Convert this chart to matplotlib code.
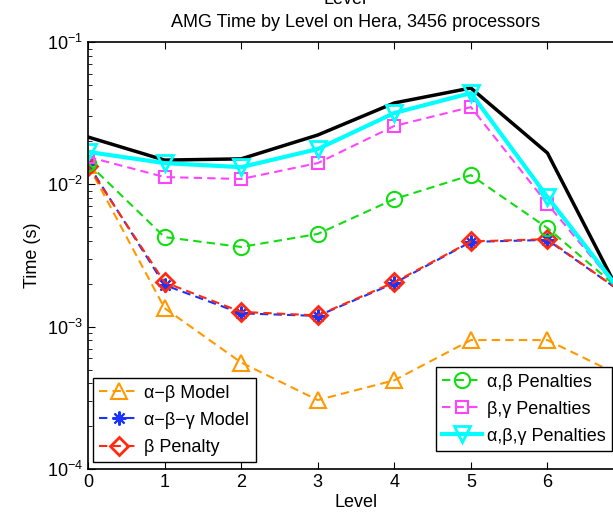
import matplotlib
matplotlib.use('Agg')
import matplotlib.pyplot as plt
import numpy as np

plt.rcParams['font.family'] = ['Liberation Sans', 'DejaVu Sans']

levels = [0, 1, 2, 3, 4, 5, 6, 7]

# measured total (black, no legend entry)
measured = [0.0215, 0.0148, 0.0151, 0.0222, 0.0373, 0.0475, 0.0166, 0.00150]
ab_model = [0.0137, 0.00135, 0.00056, 0.000305, 0.00042, 0.000805, 0.000805, 0.00044]
abg_model = [0.0139, 0.00196, 0.00124, 0.00119, 0.00202, 0.00394, 0.00407, 0.00170]
b_penalty = [0.0135, 0.00205, 0.00127, 0.00120, 0.00205, 0.00397, 0.00412, 0.00170]
ab_pen = [0.0141, 0.00426, 0.00363, 0.00448, 0.00788, 0.0116, 0.00493, 0.00172]
bg_pen = [0.0156, 0.01125, 0.0109, 0.0141, 0.0257, 0.0349, 0.00728, 0.00165]
abg_pen = [0.0169, 0.0141, 0.0132, 0.0177, 0.0317, 0.0438, 0.00815, 0.00165]

fig = plt.figure(figsize=(6.13, 5.24), dpi=100)
ax = fig.add_axes([88/613, 55/524, 536/613, 427/524])

dash = (4, 2.5)
ax.plot(levels, measured, '-', color='black', lw=2.5)
l1, = ax.plot(levels, ab_model, '--', color='#ff9900', lw=1.5, dashes=dash,
              marker='^', ms=11, mfc='none', mew=1.5, label='α−β Model')
l2, = ax.plot(levels, abg_model, '--', color='#1a33ff', lw=1.5, dashes=dash,
              marker=(8, 2, 0), ms=10, mew=1.5, label='α−β−γ Model')
l3, = ax.plot(levels, b_penalty, '--', color='#ff2a10', lw=1.5, dashes=dash,
              marker='D', ms=9.5, mfc='none', mew=2, label='β Penalty')
l4, = ax.plot(levels, ab_pen, '--', color='#11dd11', lw=1.5, dashes=dash,
              marker='o', ms=11, mfc='none', mew=1.5, label='α,β Penalties')
l5, = ax.plot(levels, bg_pen, '--', color='#ff44ff', lw=1.5, dashes=dash,
              marker='s', ms=9, mfc='none', mew=1.5, label='β,γ Penalties')
l6, = ax.plot(levels, abg_pen, '-', color='#00ffff', lw=3,
              marker='v', ms=12, mfc='none', mew=2, label='α,β,γ Penalties')

ax.set_yscale('log')
ax.set_ylim(1e-4, 1e-1)
ax.set_xlim(0, 7)
ax.set_xticks(range(0, 8))
ax.tick_params(which='both', direction='in', top=True, right=True, labelsize=13)
ax.tick_params(which='major', length=5)
ax.tick_params(which='minor', length=3)
for s in ax.spines.values():
    s.set_linewidth(1.2)

ax.set_xlabel('Level', fontsize=13, labelpad=2)
ax.set_ylabel('Time (s)', fontsize=13, labelpad=4)
ax.set_title('AMG Time by Level on Hera, 3456 processors', fontsize=13, pad=11)
# stray copy of the x label, mostly above the top edge
fig.text(345/613, 1 - 4/524, 'Level', ha='center', va='baseline', fontsize=13)

leg1 = ax.legend(handles=[l1, l2, l3], loc='lower left', bbox_to_anchor=(0.0093, 0.016),
                 borderaxespad=0, fontsize=13, fancybox=False, edgecolor='black',
                 framealpha=1, handlelength=2.2, handletextpad=0.3,
                 labelspacing=0.56, borderpad=0.35)
leg1.get_frame().set_linewidth(1.0)
ax.add_artist(leg1)
leg2 = ax.legend(handles=[l4, l5, l6], loc='lower right', bbox_to_anchor=(0.978, 0.042),
                 borderaxespad=0, fontsize=13, fancybox=False, edgecolor='black',
                 framealpha=1, handlelength=2.2, handletextpad=0.3,
                 labelspacing=0.56, borderpad=0.35)
leg2.get_frame().set_linewidth(1.0)

fig.savefig('out.png', dpi=100)
